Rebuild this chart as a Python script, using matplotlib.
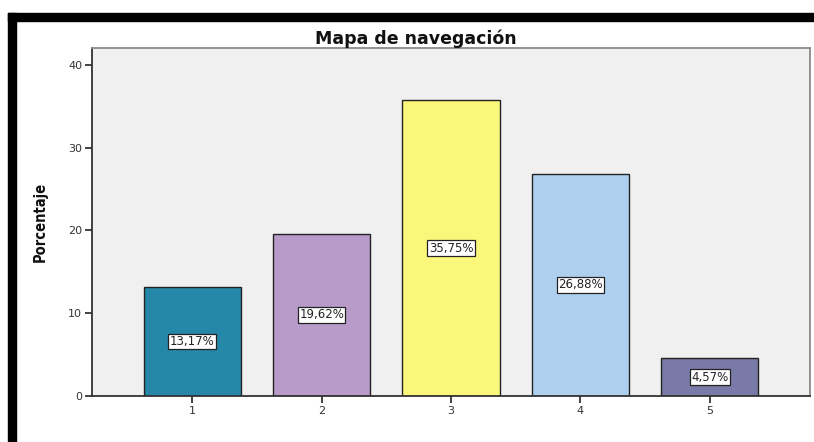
import matplotlib
matplotlib.use("Agg")
import matplotlib.pyplot as plt
from matplotlib.patches import Rectangle

# ---- data ----
categorias = ["1", "2", "3", "4", "5"]
porcentajes = [13.17, 19.62, 35.75, 26.88, 4.57]
colores = ["#2688A8", "#B89BC9", "#FAF77A", "#AED0EE", "#7A7AA8"]
titulo = "Mapa de navegación"
ylabel = "Porcentaje"

fig = plt.figure(figsize=(8.14, 4.42), dpi=100)
fig.patch.set_facecolor("white")

# marco negro (arriba y a la izquierda)
fig.patches.append(Rectangle((8 / 814, 0), 8 / 814, 1 - 13 / 442,
                             transform=fig.transFigure, color="black", zorder=0))
fig.patches.append(Rectangle((8 / 814, 1 - 21 / 442), 1, 8 / 442,
                             transform=fig.transFigure, color="black", zorder=0))

ax = fig.add_axes([92 / 814, 46 / 442, 718 / 814, 348 / 442])
ax.set_facecolor("#F0F0F0")

x = list(range(1, len(categorias) + 1))
bars = ax.bar(x, porcentajes, width=0.75, color=colores,
              edgecolor="#222222", linewidth=1.0, zorder=2)

for b, v in zip(bars, porcentajes):
    txt = f"{v:.2f}%".replace(".", ",")
    ax.text(b.get_x() + b.get_width() / 2, v / 2, txt,
            ha="center", va="center", fontsize=8.5, color="#222222", zorder=3,
            bbox=dict(boxstyle="square,pad=0.12", facecolor="white",
                      edgecolor="#222222", linewidth=0.9))

ax.set_xlim(0.225, 5.775)
ax.set_ylim(0, 42.05)
ax.set_xticks(x)
ax.set_xticklabels(categorias)
ax.set_yticks([0, 10, 20, 30, 40])
ax.tick_params(axis="both", direction="out", length=5, width=1.2,
               labelsize=8, colors="#222222", labelcolor="#333333", pad=2)

for s in ["left", "bottom"]:
    ax.spines[s].set_color("#333333")
    ax.spines[s].set_linewidth(1.3)
for s in ["top", "right"]:
    ax.spines[s].set_color("#8A8A8A")
    ax.spines[s].set_linewidth(1.3)

ax.set_title(titulo, x=0.451, fontsize=12.5, fontweight="bold", pad=2, color="#111111")
ax.set_ylabel(ylabel, fontsize=10.5, fontweight="bold", fontstretch="condensed",
              family="DejaVu Sans", labelpad=15, color="#111111")

fig.savefig("out.png", dpi=100)
